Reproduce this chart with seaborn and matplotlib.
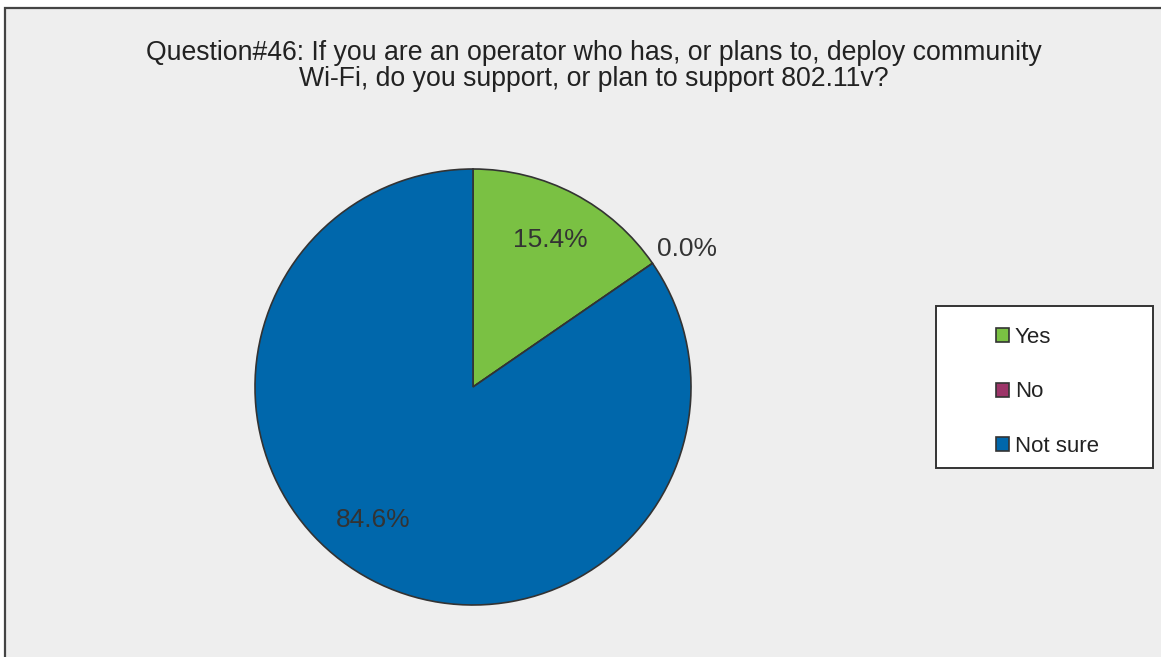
import matplotlib
matplotlib.use("Agg")
import matplotlib.pyplot as plt
from matplotlib.patches import Rectangle
import seaborn as sns

# survey answers (counts read as percentages of 13 respondents)
labels = ["Yes", "No", "Not sure"]
shares = [15.4, 0.0, 84.6]
colors = ["#7ac143", "#9c3468", "#0067ab"]

title = ("Question#46: If you are an operator who has, or plans to, deploy community\n"
         "Wi-Fi, do you support, or plan to support 802.11v?")

sns.set_theme(style="white")
plt.rcParams["font.family"] = ["Liberation Sans", "DejaVu Sans"]

W, H = 1161, 657
fig = plt.figure(figsize=(W / 100, H / 100), dpi=100)
fig.patch.set_facecolor("white")

# chart area frame (runs off the right and bottom edges)
fig.patches.append(Rectangle((5 / W, -0.05), 1.1, 1 - 8 / H + 0.05,
                             transform=fig.transFigure, facecolor="#eeeeee",
                             edgecolor="#444444", linewidth=1.6, zorder=-2))

fig.text(594 / W, 1 - 66 / H, title, ha="center", va="center", fontsize=19.2,
         color="#222222", linespacing=1.0)

# pie axes sized to the circle in pixel terms
cx, cy, r = 473, 387, 218
ax = fig.add_axes([(cx - r) / W, 1 - (cy + r) / H, 2 * r / W, 2 * r / H])
ax.set_zorder(2)
ax.set_facecolor("none")
wedges, _, autotexts = ax.pie(shares, colors=colors, startangle=90, counterclock=False,
                              autopct="%1.1f%%", pctdistance=0.76, radius=1,
                              wedgeprops=dict(edgecolor="#333333", linewidth=1.2),
                              textprops=dict(fontsize=19, color="#333333"))
ax.set_xlim(-1, 1)
ax.set_ylim(-1, 1)
ax.set_aspect("equal")
for t in autotexts:
    t.set_clip_on(False)

# label placement as in the source: zero share outside, big share lower left
autotexts[1].set_position((0.98, 0.635))
autotexts[2].set_position((-0.46, -0.61))

# legend box
lx0, ly0, lx1, ly1 = 936, 306, 1153, 468
fig.patches.append(Rectangle((lx0 / W, 1 - ly1 / H), (lx1 - lx0) / W, (ly1 - ly0) / H,
                             transform=fig.transFigure, facecolor="white",
                             edgecolor="#333333", linewidth=1.4, zorder=1))
leg = fig.legend(wedges, labels, loc="upper left", frameon=False,
                 bbox_to_anchor=(985 / W, 1 - 316 / H), fontsize=16,
                 handlelength=0.6, handleheight=0.6, handletextpad=0.25,
                 labelspacing=1.5, borderpad=0)
for h in leg.legend_handles:
    h.set_edgecolor("#333333")
    h.set_linewidth(1.2)
for t in leg.get_texts():
    t.set_color("#222222")

fig.savefig("out.png", dpi=100)
